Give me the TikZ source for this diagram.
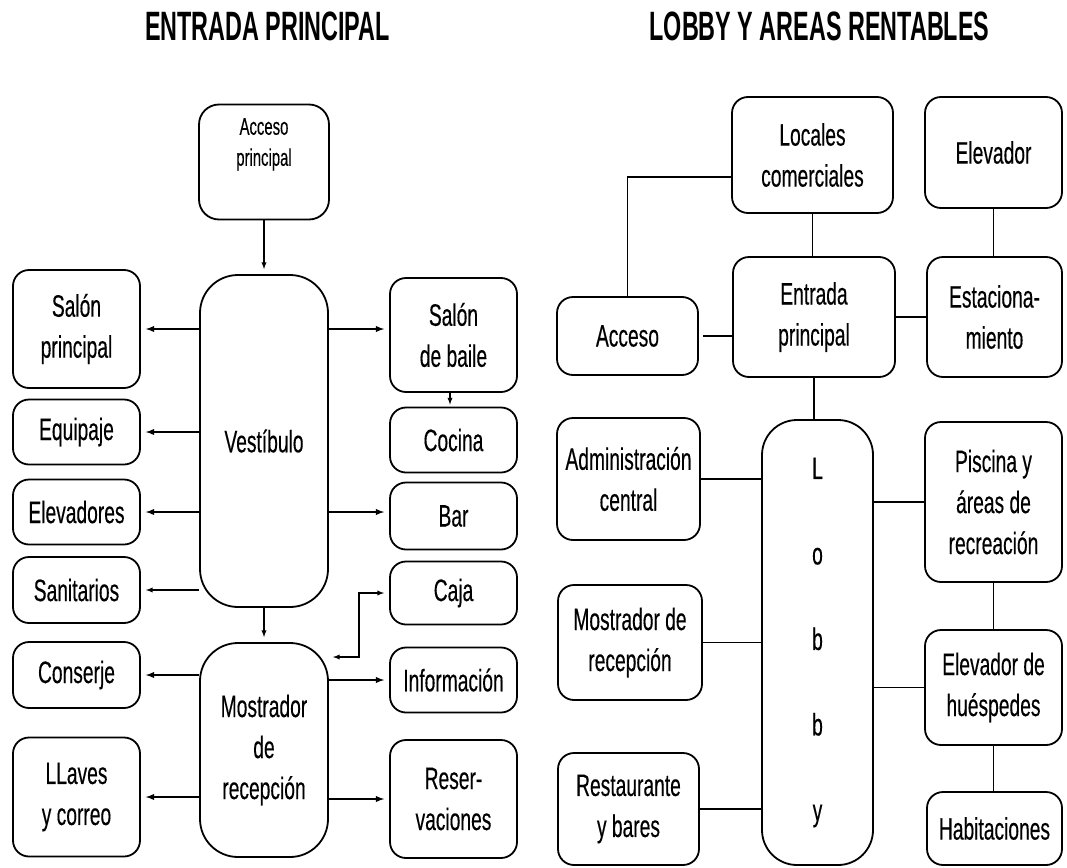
\documentclass[tikz,border=0pt]{standalone}
\usepackage{fontspec}
\setmainfont{Liberation Sans}[FakeStretch=0.62, FakeBold=0.3]
\newfontfamily\headfont{Liberation Sans}[FakeStretch=0.57]
\usetikzlibrary{calc}

\tikzset{
  box/.style={draw, line width=1.8pt, rounded corners=16pt, align=center,
    inner sep=0pt, font=\fontsize{31}{41}\selectfont},
  bigbox/.style={box, rounded corners=38pt},
  sz/.style 2 args={minimum width=#1, minimum height=#2},
  link/.style={draw, line width=1.8pt},
  arr/.style={link, -latex, shorten >=5pt},
  heading/.style={font=\headfont\bfseries\fontsize{41}{45}\selectfont}
}

\begin{document}
\begin{tikzpicture}[x=1pt, y=-1pt]
\useasboundingbox (0,0) rectangle (1067,867);

% titulos
\node[heading] (tit1) at (267.5,26) {ENTRADA PRINCIPAL};
\node[heading] (tit2) at (819.5,26) {LOBBY Y AREAS RENTABLES};

%%% entrada principal
\node[box, rounded corners=20pt, sz={130pt}{115pt}, text depth=40pt, font=\fontsize{24}{31}\selectfont]
  (accp) at (264,162) {Acceso\\principal};
\node[bigbox, sz={128pt}{332pt}] (vest) at (264,441) {Vest\'ibulo};
\node[bigbox, sz={128pt}{214pt}] (mos) at (264,750) {Mostrador\\de\\recepci\'on};

\node[box, sz={127pt}{118pt}] (spr) at (76.5,329) {Sal\'on\\principal};
\node[box, sz={127pt}{65pt}] (equ) at (76.5,432) {Equipaje};
\node[box, sz={127pt}{65pt}] (ele) at (76.5,512) {Elevadores};
\node[box, sz={127pt}{66pt}] (san) at (76.5,590) {Sanitarios};
\node[box, sz={127pt}{66pt}] (con) at (76.5,675) {Conserje};
\node[box, sz={127pt}{119pt}] (lla) at (76.5,797) {LLaves\\y correo};

\node[box, sz={127pt}{114pt}] (sba) at (453.5,335) {Sal\'on\\de baile};
\node[box, sz={127pt}{65pt}] (coc) at (453.5,440) {Cocina};
\node[box, sz={127pt}{67pt}] (bar) at (453.5,516) {Bar};
\node[box, sz={127pt}{63pt}] (caj) at (453.5,593) {Caja};
\node[box, sz={127pt}{65pt}] (inf) at (453.5,680) {Informaci\'on};
\node[box, sz={127pt}{118pt}] (res) at (453.5,799) {Reser-\\vaciones};

\draw[arr, line width=1.3pt] (accp) -- (vest);
\draw[arr] (vest.west |- spr) -- (spr.east);
\draw[arr] (vest.west |- equ) -- (equ.east);
\draw[arr] (vest.west |- ele) -- (ele.east);
\draw[arr, line width=1.3pt] (vest.west |- san) -- (san.east);
\draw[arr] (vest.east |- spr) -- (sba.west |- spr);
\draw[arr] (vest.east |- ele) -- (bar.west |- ele);
\draw[arr, line width=1.3pt, shorten >=2pt] (sba.south -| 450,0) -- (coc.north -| 450,0);
\draw[arr, line width=1.3pt] (vest) -- (mos);
\draw[arr] (mos.west |- con) -- (con.east);
\draw[arr] (mos.east |- inf) -- (inf.west);
\draw[arr] (mos.west |- lla) -- (lla.east);
\draw[arr] (mos.east |- res) -- (res.west);
\coordinate (cjk) at (359,657);
\draw[link, line width=1.3pt, latex-latex, shorten <=5pt, shorten >=4pt]
  (caj.west) -| (cjk) -- (mos.east |- cjk);

%%% lobby y areas rentables
\node[box, sz={161pt}{116pt}] (loc) at (812.5,155) {Locales\\comerciales};
\node[box, sz={137pt}{111pt}] (elv) at (993.5,152.5) {Elevador};
\node[box, sz={141pt}{78pt}] (acs) at (627.5,336) {Acceso};
\node[box, sz={162pt}{120pt}] (ent) at (814,317) {Entrada\\principal};
\node[box, sz={135pt}{120pt}] (est) at (994.5,317) {Estaciona-\\miento};

\node[box, rounded corners=35pt, sz={111pt}{445pt}, font=\fontsize{31}{85.5}\selectfont]
  (lob) at (817.5,642.5) {L\\o\\b\\b\\y};
\node[box, sz={143pt}{122pt}] (adm) at (628.5,479) {Administraci\'on\\central};
\node[box, sz={144pt}{115pt}] (mdr) at (630,642.5) {Mostrador de\\recepci\'on};
\node[box, sz={141pt}{112pt}] (rst) at (628.5,809) {Restaurante\\y bares};
\node[box, sz={137pt}{160pt}] (pis) at (993.5,502) {Piscina y\\\'areas de\\recreaci\'on};
\node[box, sz={137pt}{115pt}] (ehu) at (993.5,687.5) {Elevador de\\hu\'espedes};
\node[box, sz={135pt}{73pt}] (hab) at (994.5,828.5) {Habitaciones};

\draw[link] (acs.north) |- ($(loc.west)+(0,22)$);
\draw[link] (loc.south) -- (loc.south |- ent.north);
\draw[link] (elv.south) -- (elv.south |- est.north);
\draw[link, shorten <=4pt] (acs.east) -- (ent.west |- acs.east);
\draw[link, line width=2.8pt] (ent.east) -- (est.west);
\draw[link] (ent.south) -- (ent.south |- lob.north);
\draw[link] (adm.east) -- (lob.west |- adm.east);
\draw[link] (mdr.east) -- (lob.west |- mdr.east);
\draw[link] (rst.east) -- (lob.west |- rst.east);
\draw[link] (lob.east |- pis) -- (pis.west);
\draw[link] (lob.east |- ehu) -- (ehu.west);
\draw[link] (pis.south) -- (pis.south |- ehu.north);
\draw[link] (ehu.south) -- (ehu.south |- hab.north);
\end{tikzpicture}
\end{document}
